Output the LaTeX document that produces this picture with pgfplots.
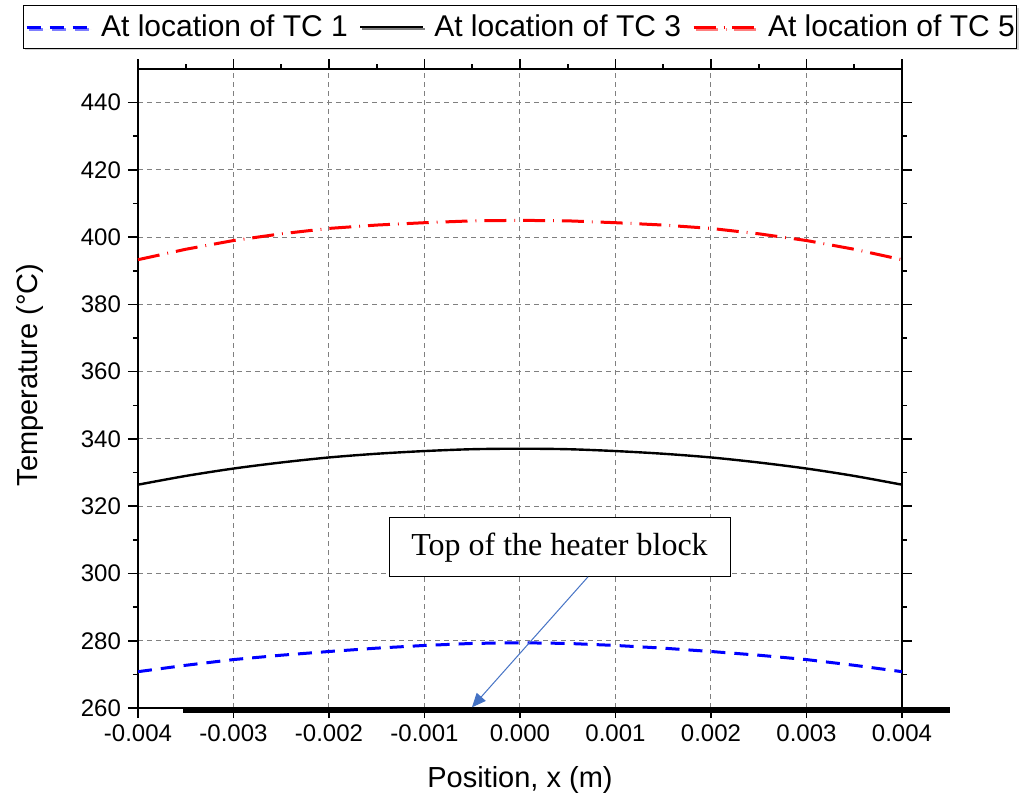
\documentclass[border=0pt]{standalone}
\usepackage{pgfplots}
\pgfplotsset{compat=1.18}
\usepackage{fontspec}
\setmainfont{Liberation Sans}
\newfontfamily\timesfont{Liberation Serif}
\usetikzlibrary{arrows.meta,shadows}
\definecolor{arrowblue}{HTML}{4472C4}
\definecolor{gridgray}{gray}{0.5}

\begin{document}
\begin{tikzpicture}
\begin{axis}[
  at={(0,0)}, anchor=south west,
  scale only axis, width=382pt, height=319.5pt,
  xmin=-0.004, xmax=0.004, ymin=260, ymax=450,
  xtick={-0.004,-0.003,-0.002,-0.001,0,0.001,0.002,0.003,0.004},
  ytick={260,280,300,320,340,360,380,400,420,440},
  minor x tick num=1, minor y tick num=1,
  scaled x ticks=false,
  xticklabel style={/pgf/number format/fixed, /pgf/number format/fixed zerofill, /pgf/number format/precision=3},
  /pgf/number format/assume math mode=true,
  tick label style={font=\fontsize{12}{14}\selectfont},
  tick align=outside,
  major tick length=5pt, minor tick length=2.5pt,
  every tick/.style={black, line width=0.8pt},
  axis line style={line width=1pt},
  xmajorgrids, ymajorgrids,
  major grid style={gridgray, line width=0.5pt, dash pattern=on 2.5pt off 2pt},
  clip=false,
  xlabel={Position, x (m)},
  ylabel={Temperature (\textdegree C)},
  every axis x label/.style={at={(axis description cs:0.5,-0.1127)}, anchor=center, font=\fontsize{14.5}{17}\selectfont},
  every axis y label/.style={at={(axis description cs:-0.1414,0.521)}, anchor=center, rotate=90, font=\fontsize{14.5}{17}\selectfont},
  legend columns=3,
  legend style={at={(0.5,1)}, anchor=south, yshift=10pt,
    draw=black, line width=0.6pt, fill=white,
    drop shadow={shadow xshift=1pt, shadow yshift=-1pt, fill=gray!70},
    font=\fontsize{15}{18}\selectfont,
    inner xsep=1pt, inner ysep=2.5pt,
    nodes={inner xsep=0pt},
    /tikz/every even column/.append style={column sep=5.5pt},
    /tikz/every odd column/.append style={column sep=5pt}},
  legend image code/.code={\draw[#1] (0pt,0pt) -- (31.5pt,0pt);},
]
% TC 1
\addplot[blue, line width=1.5pt, dash pattern=on 7pt off 4.5pt] coordinates {
  (-0.004,270.8) (-0.0035,272.7) (-0.003,274.4) (-0.0025,275.7) (-0.002,276.8)
  (-0.0015,277.8) (-0.001,278.6) (-0.0005,279.2) (0,279.4)
  (0.0005,279.2) (0.001,278.6) (0.0015,277.8) (0.002,276.8) (0.0025,275.7)
  (0.003,274.4) (0.0035,272.7) (0.004,270.8)};
\addlegendentry{At location of TC 1}
% TC 3
\addplot[black, line width=1.2pt, smooth] coordinates {
  (-0.004,326.4) (-0.0035,329.0) (-0.003,331.2) (-0.0025,333.0) (-0.002,334.5)
  (-0.0015,335.6) (-0.001,336.4) (-0.0005,336.95) (0,337.1)
  (0.0005,336.95) (0.001,336.4) (0.0015,335.6) (0.002,334.5) (0.0025,333.0)
  (0.003,331.2) (0.0035,329.0) (0.004,326.4)};
\addlegendentry{At location of TC 3}
% TC 5
\addplot[red, line width=1.5pt, dash pattern=on 11pt off 4pt on 0.4pt off 4pt] coordinates {
  (-0.004,393.3) (-0.0035,396.4) (-0.003,399.0) (-0.0025,401.0) (-0.002,402.6)
  (-0.0015,403.6) (-0.001,404.3) (-0.0005,404.85) (0,405.0)
  (0.0005,404.85) (0.001,404.3) (0.0015,403.6) (0.002,402.6) (0.0025,401.0)
  (0.003,399.0) (0.0035,396.4) (0.004,393.3)};
\addlegendentry{At location of TC 5}
% heater block surface
\draw[black, line width=3pt] ([yshift=-1pt]axis cs:-0.00353,260) -- ([yshift=-1pt]axis cs:0.0045,260);
% annotation
\node[draw=black, line width=0.5pt, fill=white, minimum width=170.5pt, minimum height=29.5pt,
      inner sep=0pt, font=\timesfont\fontsize{16}{19}\selectfont]
  (note) at (axis cs:0.000414,307.8) {Top of the heater block};
\draw[arrowblue, line width=0.5pt, -{Triangle[length=7pt, width=6pt]}]
  (axis cs:0.000712,299.0) -- (axis cs:-0.000503,260.2);
\end{axis}
\pgfresetboundingbox
\path[use as bounding box] (-69pt,-48pt) rectangle (443pt,354pt);
\end{tikzpicture}
\end{document}
